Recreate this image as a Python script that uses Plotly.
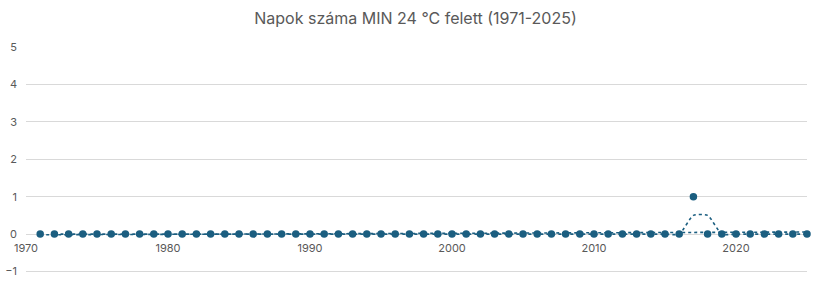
import numpy as np
import plotly.graph_objects as go

years = list(range(1971, 2026))
values = [0] * len(years)
values[years.index(2017)] = 1

title_text = "Napok száma MIN 24 °C felett (1971-2025)"
x_ticks = [1970, 1980, 1990, 2000, 2010, 2020]
y_ticks = [-1, 0, 1, 2, 3, 4, 5]

color = "#1b5e80"
grey = "#595959"

# 2-period moving average trendline
ma_x = years[1:]
ma_y = [(values[i - 1] + values[i]) / 2 for i in range(1, len(values))]
# linear trendline
coef = np.polyfit(years, values, 1)
lin_x = [years[0], years[-1]]
lin_y = [coef[0] * x + coef[1] for x in lin_x]

fig = go.Figure()
fig.add_trace(go.Scatter(x=lin_x, y=lin_y, mode="lines",
                         line=dict(color=color, width=1.6, dash="dot"),
                         hoverinfo="skip", showlegend=False))
fig.add_trace(go.Scatter(x=ma_x, y=ma_y, mode="lines",
                         line=dict(color=color, width=1.6, dash="dot", shape="spline", smoothing=0.6),
                         hoverinfo="skip", showlegend=False))
fig.add_trace(go.Scatter(x=years, y=values, mode="markers",
                         marker=dict(color=color, size=7.5),
                         showlegend=False, cliponaxis=False))

ymin, ymax = -1.04, 5
ydom = [0, 1]
pos = ydom[0] + (0 - ymin) / (ymax - ymin) * (ydom[1] - ydom[0])

fig.update_layout(
    width=831, height=285,
    margin=dict(l=26, r=24, t=47, b=12),
    paper_bgcolor="white", plot_bgcolor="white",
    font=dict(family="Inter, Open Sans, sans-serif", color=grey, size=11),
    title=dict(text=title_text, x=0.5, xanchor="center", y=1 - 18 / 285, yanchor="middle",
               font=dict(size=16, color=grey, family="Inter, Open Sans, sans-serif")),
    xaxis=dict(range=[1970, 2025], tickvals=x_ticks, showgrid=False, zeroline=False,
               showline=False, ticks="", anchor="free", position=pos, automargin=False,
               tickfont=dict(size=11, color=grey), ticklabelstandoff=6),
    yaxis=dict(range=[ymin, ymax], tickvals=y_ticks, showgrid=True, gridcolor="#d9d9d9",
               gridwidth=1, zeroline=False, showline=False, ticks="", domain=ydom,
               automargin=False, tickfont=dict(size=11, color=grey), ticklabelstandoff=8),
)

fig.write_html("out.html")
